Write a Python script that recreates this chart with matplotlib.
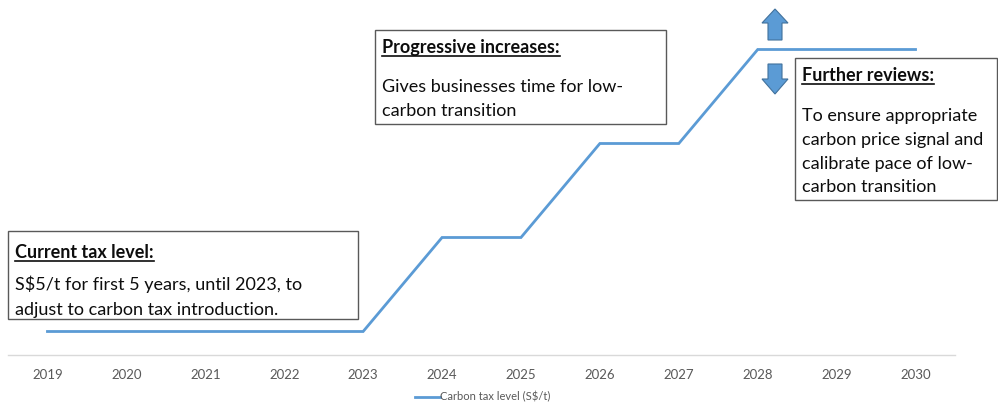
import matplotlib
matplotlib.use("Agg")
import matplotlib.pyplot as plt
from matplotlib.patches import Rectangle, Polygon
from matplotlib.lines import Line2D

plt.rcParams['font.family'] = ['Lato', 'DejaVu Sans']

years = [2019, 2020, 2021, 2022, 2023, 2024, 2025, 2026, 2027, 2028, 2029, 2030]
tax_level = [5, 5, 5, 5, 5, 25, 25, 45, 45, 65, 65, 65]
series_name = "Carbon tax level (S$/t)"

notes = [
    ("Current tax level:",
     ["S$5/t for first 5 years, until 2023, to",
      "adjust to carbon tax introduction."]),
    ("Progressive increases:",
     ["Gives businesses time for low-",
      "carbon transition"]),
    ("Further reviews:",
     ["To ensure appropriate",
      "carbon price signal and",
      "calibrate pace of low-",
      "carbon transition"]),
]

W, H = 998, 407
BLUE = "#5B9BD5"


def fp(x, y):
    # pixel position (from top-left) -> figure fraction
    return x / W, 1 - y / H


fig = plt.figure(figsize=(W / 100, H / 100), dpi=100)
ax = fig.add_axes([8 / W, 1 - 355 / H, 947 / W, 335 / H])
ax.patch.set_alpha(0)

ax.plot(years, tax_level, color=BLUE, lw=2.0, label=series_name,
        solid_joinstyle="miter")
ax.set_xlim(2018.5, 2030.5)
ax.set_ylim(0, 335 / 4.7)
ax.set_xticks(years)
ax.set_xticklabels([str(y) for y in years], color="#595959", fontsize=9.5)
ax.tick_params(axis="x", length=0, pad=10)
ax.set_yticks([])
for s in ["top", "left", "right"]:
    ax.spines[s].set_visible(False)
ax.spines["bottom"].set_color("#D9D9D9")
ax.spines["bottom"].set_linewidth(1.0)

leg = fig.legend(loc="center", bbox_to_anchor=fp(483, 397), frameon=False,
                 fontsize=8, handlelength=2.2, handletextpad=0.05)
for t in leg.get_texts():
    t.set_color("#595959")

# note boxes: (left, top, right, bottom, title baseline, body baselines)
boxes = [
    (8, 231, 358, 319, 258, [290, 315]),
    (375, 30, 666, 124, 53, [92, 116]),
    (795, 58, 997, 200, 81, [121, 145, 169, 192]),
]

titles = []
for (l, t, r, b, ty, bys), (title, body) in zip(boxes, notes):
    x0, y0 = fp(l, b)
    x1, y1 = fp(r, t)
    fig.add_artist(Rectangle((x0, y0), x1 - x0, y1 - y0,
                             transform=fig.transFigure, facecolor="white",
                             edgecolor="#595959", lw=1.0, zorder=2))
    tt = fig.text(*fp(l + 7, ty), title, fontsize=13, fontweight="bold",
                  color="#0D0D0D", va="baseline", zorder=3)
    titles.append(tt)
    for line, by in zip(body, bys):
        fig.text(*fp(l + 7, by), line, fontsize=13, color="#0D0D0D",
                 va="baseline", zorder=3)

# up / down arrows beside the final level
cx = 775
up = [(cx, 9), (cx + 13, 23), (cx + 7, 23), (cx + 7, 40),
      (cx - 7, 40), (cx - 7, 23), (cx - 13, 23)]
down = [(cx, 94), (cx + 13, 79), (cx + 7, 79), (cx + 7, 64),
        (cx - 7, 64), (cx - 7, 79), (cx - 13, 79)]
for pts in (up, down):
    fig.add_artist(Polygon([fp(x, y) for x, y in pts], closed=True,
                           transform=fig.transFigure, facecolor=BLUE,
                           edgecolor="#41719C", lw=0.8, zorder=2))

# underline the note titles
fig.canvas.draw()
renderer = fig.canvas.get_renderer()
for tt in titles:
    bb = tt.get_window_extent(renderer)
    fig.add_artist(Line2D([bb.x0 / W, bb.x1 / W],
                          [tt.get_position()[1] - 2.5 / H] * 2,
                          transform=fig.transFigure, color="#0D0D0D",
                          lw=1.2, zorder=3))

fig.savefig("out.png", dpi=100)
